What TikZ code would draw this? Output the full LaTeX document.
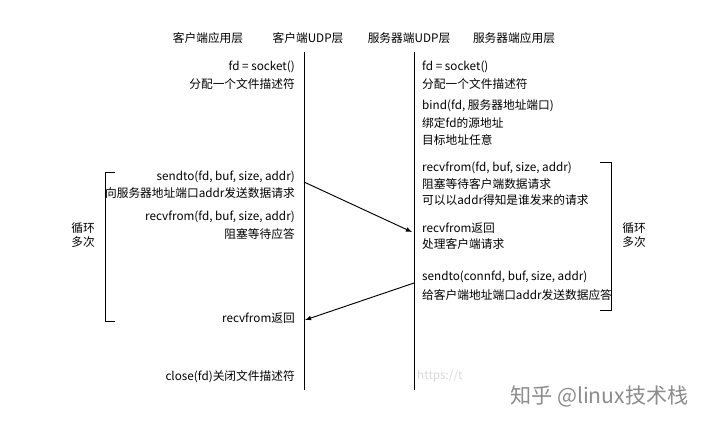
\documentclass[tikz,border=0pt]{standalone}
\usepackage{fontspec}
\setmainfont{Noto Sans CJK SC}
\begin{document}
\begin{tikzpicture}[x=0.03cm,y=-0.03cm,
  t/.style={font=\fontsize{10}{12}\selectfont,inner sep=0pt},
  l/.style={t,anchor=west},
  r/.style={t,anchor=east},
  ln/.style={line width=0.8pt},
  ar/.style={ln,-latex}]
\useasboundingbox[fill=white] (0,0) rectangle (712,425);
\node[t] (h1) at (208,38) {客户端应用层};
\node[t] (h2) at (308,38) {客户端UDP层};
\node[t] (h3) at (409,38) {服务器端UDP层};
\node[t] (h4) at (514,38) {服务器端应用层};
\coordinate (ct) at (304,52); \coordinate (cb) at (304,390);
\coordinate (st) at (414,52); \coordinate (sb) at (414,390);
\draw[ln] (ct)--(cb); \draw[ln] (st)--(sb);
% left
\node[r] (a1) at (295,67) {fd = socket()};
\node[r] (a2) at (295,84) {分配一个文件描述符};
\node[r] (a3) at (295,177) {sendto(fd, buf, size, addr)};
\node[r] (a4) at (295,193) {向服务器地址端口addr发送数据请求};
\node[r] (a5) at (295,217) {recvfrom(fd, buf, size, addr)};
\node[r] (a6) at (295,234) {阻塞等待应答};
\node[r] (a7) at (295,318) {recvfrom返回};
\node[r] (a8) at (295,377) {close(fd)关闭文件描述符};
% right
\node[l] (b1) at (422,67) {fd = socket()};
\node[l] (b2) at (422,84) {分配一个文件描述符};
\node[l] (b3) at (422,106) {bind(fd, 服务器地址端口)};
\node[l] (b4) at (422,123) {绑定fd的源地址};
\node[l] (b5) at (422,140) {目标地址任意};
\node[l] (b6) at (422,168) {recvfrom(fd, buf, size, addr)};
\node[l] (b7) at (422,184) {阻塞等待客户端数据请求};
\node[l] (b8) at (422,200) {可以以addr得知是谁发来的请求};
\node[l] (b9) at (422,228) {recvfrom返回};
\node[l] (b10) at (422,244) {处理客户端请求};
\node[l] (b11) at (422,277) {sendto(connfd, buf, size, addr)};
\node[l] (b12) at (422,295) {给客户端地址端口addr发送数据应答};
% brackets
\draw[ln] (115,172)--(105,172)--(105,321)--(115,321);
\draw[ln] (600,162)--(611,162)--(611,310)--(600,310);
\node[t,align=center] (c1) at (83,235) {循环\\多次};
\node[t,align=center] (c2) at (634,235) {循环\\多次};
% arrows
\coordinate (p1) at (304,182); \coordinate (q1) at (412,232);
\coordinate (p2) at (414,283); \coordinate (q2) at (305,320);
\draw[ar] (p1)--(q1);
\draw[ar] (p2)--(q2);
% watermark
\node[l,text=black!15] (w1) at (417,376) {https://t};
\node[l,text=black!45,font=\fontsize{18}{20}\selectfont] (w2) at (510,396) {知乎 @linux技术栈};
\end{tikzpicture}
\end{document}
